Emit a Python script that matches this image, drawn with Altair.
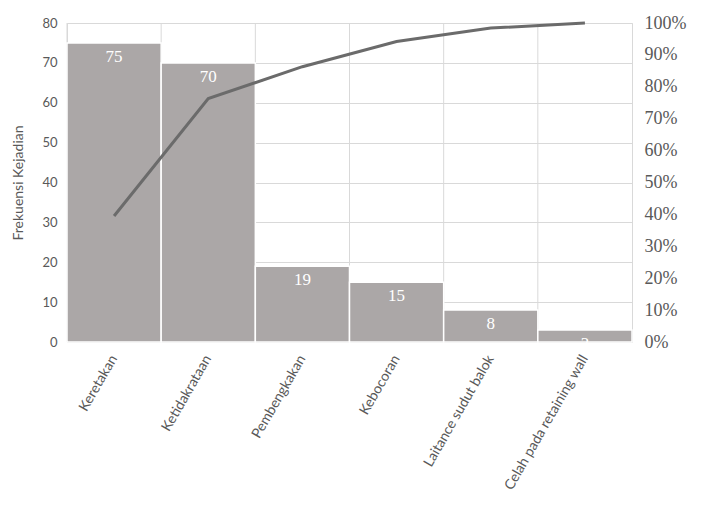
import altair as alt
import pandas as pd

categories = ["Keretakan", "Ketidakrataan", "Pembengkakan", "Kebocoran",
              "Laitance sudut balok", "Celah pada retaining wall"]
frequencies = [75, 70, 19, 15, 8, 3]
cumulative_pct = [0.395, 0.763, 0.863, 0.942, 0.984, 1.0]
left_ticks = [0, 10, 20, 30, 40, 50, 60, 70, 80]
right_ticks = [0, 0.1, 0.2, 0.3, 0.4, 0.5, 0.6, 0.7, 0.8, 0.9, 1.0]

df = pd.DataFrame({"cat": categories, "freq": frequencies, "cum": cumulative_pct})

TXT = "#595959"
GRID = "#d9d9d9"

xscale = alt.Scale(paddingInner=0, paddingOuter=0)
xaxis = alt.Axis(title=None, labelAngle=-60, labelAlign="right",
                 labelBaseline="middle", labelFont="Lato", labelFontSize=14,
                 labelColor=TXT, labelPadding=14, ticks=False, domain=False,
                 grid=False, labelLimit=0)
yaxis = alt.Axis(values=left_ticks, title="Frekuensi Kejadian",
                 titleFont="Lato", titleFontSize=14, titleFontWeight="normal",
                 titleColor=TXT, titlePadding=16, labelFont="Lato",
                 labelFontSize=13, labelColor=TXT, labelPadding=10,
                 domain=False, ticks=False, grid=True, gridColor=GRID,
                 labelOverlap=False)
yscale = alt.Scale(domain=[0, 80], nice=False)

base = alt.Chart(df)

vgrid = base.mark_rule(color=GRID, strokeWidth=1).encode(
    x=alt.X("cat:N", sort=categories, scale=xscale, bandPosition=0, axis=xaxis)
)

bars = base.mark_bar(color="#ABA7A7", stroke="white", strokeWidth=1.5).encode(
    x=alt.X("cat:N", sort=categories, scale=xscale, axis=xaxis),
    y=alt.Y("freq:Q", scale=yscale, axis=yaxis)
)

labels = base.mark_text(baseline="top", dy=6, font="Liberation Serif",
                        fontSize=17, color="white").encode(
    x=alt.X("cat:N", sort=categories, scale=xscale, axis=xaxis),
    y=alt.Y("freq:Q", scale=yscale, axis=yaxis),
    text="freq:Q"
)

left = alt.layer(vgrid, bars, labels)

line = base.mark_line(color="#6B6B6B", strokeWidth=3).encode(
    x=alt.X("cat:N", sort=categories, scale=xscale, axis=xaxis),
    y=alt.Y("cum:Q", scale=alt.Scale(domain=[0, 1], nice=False),
            axis=alt.Axis(orient="right", values=right_ticks, format=".0%", title=None,
                          labelFont="Liberation Serif", labelFontSize=18,
                          labelColor=TXT, labelPadding=12, domain=False,
                          ticks=False, grid=False, labelOverlap=False))
)

chart = alt.layer(left, line).resolve_scale(y="independent").properties(
    width=565, height=319,
    padding={"left": 59, "top": 15, "right": 64, "bottom": 155},
    autosize=alt.AutoSizeParams(type="none"),
).configure_view(stroke=GRID)

chart.save("out.html", embed_options={"renderer": "svg", "actions": False})
